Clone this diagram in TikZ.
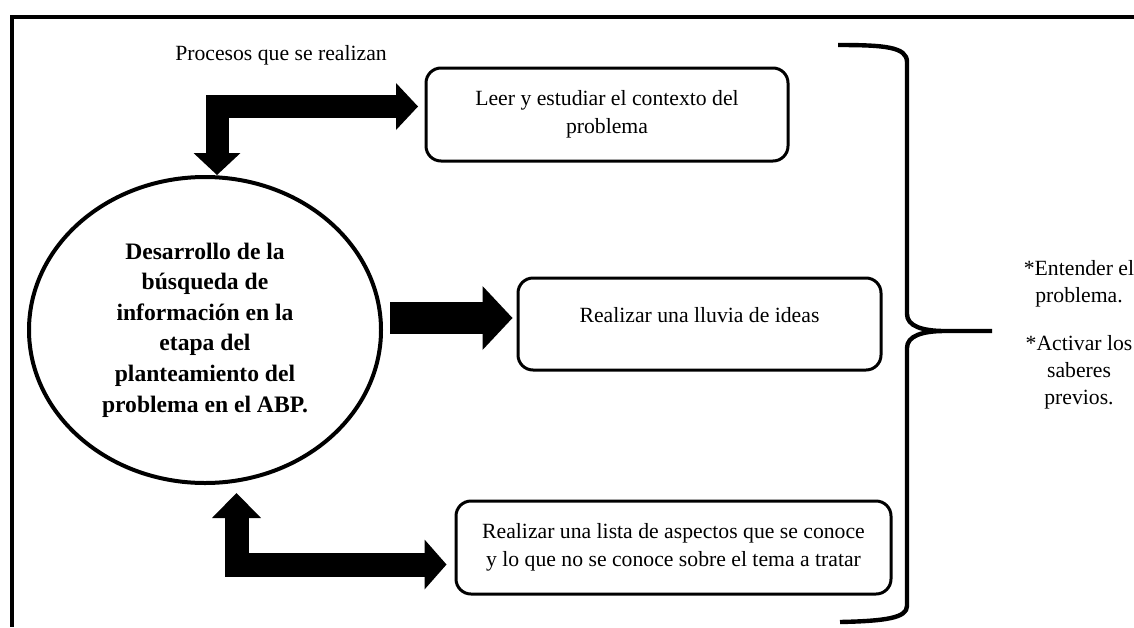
\documentclass[tikz,border=0pt]{standalone}
\usepackage{fontspec}
\setmainfont{Liberation Serif}
\usetikzlibrary{shapes,arrows.meta}

\begin{document}
\begin{tikzpicture}
	[x=0.5pt, y=-0.5pt,
	procbox/.style={draw, line width=1.5pt, rectangle, rounded corners=7.5pt,
		align=center, inner sep=0pt, font=\fontsize{10.85pt}{14pt}\selectfont},
	mainellipse/.style={draw, line width=2pt, ellipse, inner sep=0pt,
		minimum width=176pt, minimum height=153pt, align=center,
		font=\fontsize{11.8pt}{15.3pt}\selectfont\bfseries},
	plaintext/.style={align=center, inner sep=0pt,
		font=\fontsize{10.85pt}{13.6pt}\selectfont},
	blockarrow/.style={line width=#1, draw=black}]
	
	\useasboundingbox (0,0) rectangle (1134,627);
	\draw[line width=2pt] (1134,17) -- (12,17) -- (12,627);
	
	\node [plaintext] (titulo) at (281,55) {Procesos que se realizan};
	
	\node [mainellipse] (elipse) at (205,330) {Desarrollo de la\\b\'usqueda de\\informaci\'on en la\\etapa del\\planteamiento del\\problema en el ABP.};
	
	\node [procbox, minimum width=181pt, minimum height=46.5pt] (caja1) at (607,114.5)
		{Leer y estudiar el contexto del\\problema};
	\node [procbox, minimum width=181.5pt, minimum height=46pt] (caja2) at (699.5,324)
		{\raisebox{9pt}{Realizar una lluvia de ideas}};
	\node [procbox, minimum width=217.5pt, minimum height=46.5pt] (caja3) at (673.5,547.5)
		{Realizar una lista de aspectos que se conoce\\y lo que no se conoce sobre el tema a tratar};
	
	\draw [blockarrow=11.5pt, {Triangle[length=11pt,width=23.5pt,line width=0pt]}-{Triangle[length=11pt,width=23.5pt,line width=0pt]},
		shorten >=3.25pt] ([xshift=6pt]elipse.north) |- ([yshift=4pt]caja1.west);
	\draw [blockarrow=16pt, -{Triangle[length=15pt,width=32pt,line width=0pt]},
		shorten <=3.5pt, shorten >=2pt] ([yshift=6pt]elipse.east) -- ([yshift=3pt]caja2.west);
	\draw [blockarrow=12pt, {Triangle[length=12.5pt,width=24.5pt,line width=0pt]}-{Triangle[length=11pt,width=25pt,line width=0pt]},
		shorten <=4pt, shorten >=4pt] ([xshift=15.75pt]elipse.south) |- ([yshift=-8.5pt]caja3.west);
	
	\draw [line width=2.2pt] (838,45) .. controls (885,45) and (907,47) .. (907,62) -- (907,314)
		.. controls (907,326) and (922,331) .. (945,331) -- (992,331)
		(945,331) .. controls (922,331) and (907,336) .. (907,348) -- (907,606)
		.. controls (907,618) and (885,621) .. (840,622);
	
	\node [plaintext] (meta1) at (1079,284) {*Entender el\\problema.};
	\node [plaintext] (meta2) at (1079,372) {*Activar los\\saberes\\previos.};
\end{tikzpicture}
\end{document}
